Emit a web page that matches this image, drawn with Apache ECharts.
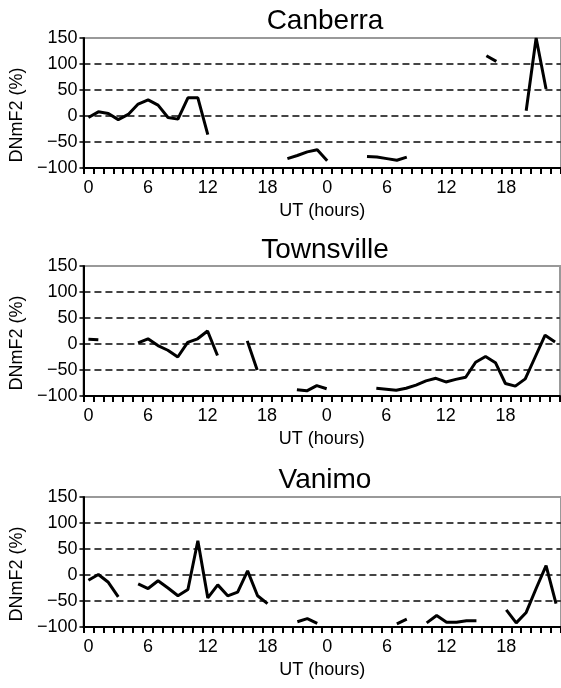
<!DOCTYPE html>
<html>
<head>
<meta charset="utf-8">
<title>DNmF2</title>
<script src="https://cdn.jsdelivr.net/npm/echarts@6/dist/echarts.min.js"></script>
<style>
  html, body { margin: 0; padding: 0; background: #fff; }
  #chart { width: 561px; height: 688px; }
</style>
</head>
<body>
<div id="chart"></div>
<script>
// 两天的UT小时（类别轴）
var hours = ['0','1','2','3','4','5','6','7','8','9','10','11','12','13','14','15','16','17','18','19','20','21','22','23',
             '0','1','2','3','4','5','6','7','8','9','10','11','12','13','14','15','16','17','18','19','20','21','22','23'];

// 站点名称
var stations = ['Canberra', 'Townsville', 'Vanimo'];

// DNmF2 (%) 数据, null = 无数据
var canberra = [-3, 8, 5, -7, 3, 23, 31, 21, -3, -6, 35, 35, -36, null, null, null, null, null, null, null,
                -82, -76, -69, -65, -86, null, null, null, -78, -79, -82, -85, -79, null, null, null, null, null, null, null,
                116, 105, null, null, 10, 150, 52, null];
var townsville = [9, 8, null, null, null, 2, 10, -3, -12, -25, 3, 10, 25, -22, null, null, 6, -50, null, null,
                  null, -88, -90, -80, -86, null, null, null, null, -85, -87, -89, -85, -79, -71, -66, -73, -68, -64, -35,
                  -24, -36, -76, -81, -67, -25, 17, 4];
var vanimo = [-10, 1, -14, -42, null, -17, -26, -11, -25, -40, -28, 66, -44, -19, -40, -33, 8, -40, -55, null,
              null, -90, -84, -93, null, null, null, null, null, null, null, -94, -85, null, -92, -78, -91, -91, -88, -88,
              null, null, -67, -92, -72, -26, 18, -55];

var seriesData = [canberra, townsville, vanimo];

var FONT = "'Liberation Sans', Arial, sans-serif";

// 每个面板的位置
var panels = [
    {left: 83, top: 38, titleTop: 2},
    {left: 80, top: 266, titleTop: 231},
    {left: 83, top: 497, titleTop: 461}
];

var myChart = echarts.init(document.getElementById('chart'), null, {renderer: 'canvas'});

var option = {
    backgroundColor: '#fff',
    animation: false,
    textStyle: {fontFamily: FONT},
    title: [],
    grid: [],
    xAxis: [],
    yAxis: [],
    series: []
};

panels.forEach(function (p, i) {
    option.title.push({
        text: stations[i],
        left: 320,
        top: p.titleTop,
        textAlign: 'center',
        textStyle: {fontFamily: FONT, fontSize: 28, fontWeight: 'normal', color: '#000'}
    });
    option.grid.push({
        left: p.left,
        top: p.top,
        width: 480,
        height: 130,
        show: true,
        borderColor: '#999',
        borderWidth: 2,
        backgroundColor: 'transparent'
    });
    option.xAxis.push({
        type: 'category',
        gridIndex: i,
        data: hours,
        boundaryGap: true,
        name: 'UT (hours)',
        nameLocation: 'middle',
        nameGap: 34,
        nameTextStyle: {fontFamily: FONT, fontSize: 18, color: '#000'},
        axisLine: {show: true, onZero: false, lineStyle: {color: '#000', width: 2}},
        axisTick: {show: true, inside: false, interval: 0, length: 6, lineStyle: {color: '#000', width: 2}},
        axisLabel: {
            interval: function (idx) { return idx % 6 === 0; },
            fontFamily: FONT,
            fontSize: 18,
            color: '#000',
            margin: 11
        },
        splitLine: {show: false}
    });
    option.yAxis.push({
        type: 'value',
        gridIndex: i,
        min: -100,
        max: 150,
        interval: 50,
        name: 'DNmF2 (%)',
        nameLocation: 'middle',
        nameGap: 52,
        nameTextStyle: {fontFamily: FONT, fontSize: 18, color: '#000', padding: [0, 24, 0, 0]},
        axisLine: {show: true, onZero: false, lineStyle: {color: '#000', width: 2}},
        axisTick: {show: true, length: 4, lineStyle: {color: '#000', width: 1.5}},
        axisLabel: {
            fontFamily: FONT, fontSize: 18, color: '#000', margin: 6,
            formatter: function (v) { return String(v).replace('-', '\u2212'); }
        },
        splitLine: {
            show: true,
            showMinLine: false,
            showMaxLine: false,
            lineStyle: {color: '#444', width: 1.8, type: [7, 4]}
        }
    });
    option.series.push({
        name: stations[i],
        type: 'line',
        xAxisIndex: i,
        yAxisIndex: i,
        data: seriesData[i],
        symbol: 'none',
        connectNulls: false,
        silent: true,
        z: 3,
        lineStyle: {color: '#000', width: 3}
    });
});

myChart.setOption(option);

window.addEventListener('resize', function () {
    myChart.resize();
});
</script>
</body>
</html>
